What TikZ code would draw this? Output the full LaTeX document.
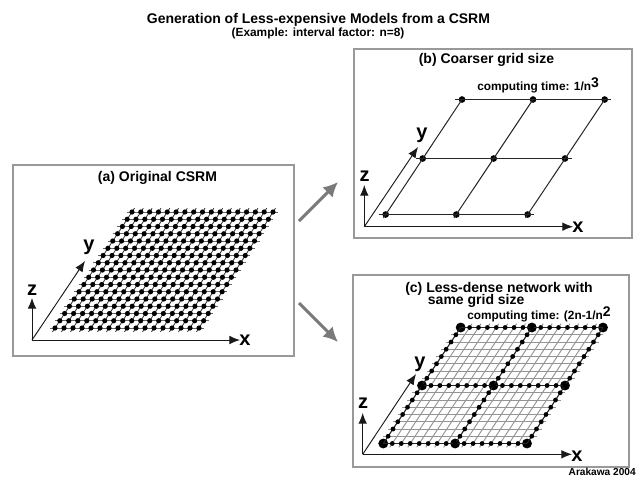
\documentclass[tikz,border=0pt]{standalone}
\usepackage{fontspec}
\setmainfont{Liberation Sans}
\usetikzlibrary{arrows.meta}
\tikzset{
 panel/.style={draw=black!40,line width=0.9pt,fill=white},
 axis/.style={black!90,line width=0.7pt,-{Latex[length=8pt,width=6.5pt]}},
 gridfine/.style={black!42,line width=0.7pt},
 gridh/.style={black!60,line width=0.75pt},
 gridv/.style={black!80,line width=0.6pt},
 coarse/.style={black!85,line width=0.75pt},
 flow/.style={black!52,line width=2.2pt,-{Latex[length=11pt,width=11pt]}},
 axlab/.style={font=\fontsize{15}{15}\selectfont\bfseries,inner sep=0pt},
 ttl/.style={font=\fontsize{10.5}{9}\selectfont\bfseries,inner sep=0pt},
 sub/.style={font=\fontsize{8.9}{9}\selectfont\bfseries,inner sep=0pt},
 dotS/.style={circle,fill=black,inner sep=0pt,minimum size=3.6pt},
 dotT/.style={circle,fill=black,inner sep=0pt,minimum size=3.9pt},
 dotM/.style={circle,fill=black,inner sep=0pt,minimum size=5pt},
 dotL/.style={circle,fill=black,inner sep=0pt,minimum size=7.4pt},
}
\begin{document}
\begin{tikzpicture}[x=0.75pt,y=-0.75pt]
\useasboundingbox (0,0) rectangle (640,480);
\fill[white] (0,0) rectangle (640,480);

\node[ttl] (title) at (318.5,19.5) {Generation of Less-expensive Models from a CSRM};
\node[sub] (subtitle) at (318,33) {(Example: interval factor: n=8)};

% panels
\draw[panel] (13,165) rectangle (294,356);
\draw[panel] (354,49) rectangle (632,238);
\draw[panel] (353,275) rectangle (629,467);

% flow arrows
\coordinate (fa1) at (299,221);
\coordinate (fb1) at (338,182);
\coordinate (fa2) at (299,303);
\coordinate (fb2) at (338,342);
\draw[flow] (fa1) -- (fb1);
\draw[flow] (fa2) -- (fb2);

% ---------- panel a grid
\foreach \v in {0,...,16}{
  \pgfmathsetmacro{\yy}{328-\v*116/16}
  \pgfmathsetmacro{\xl}{55+\v*77/16}
  \pgfmathsetmacro{\xr}{199+\v*74/16}
  \draw[gridh] (\xl-5,\yy) -- (\xr+5,\yy);
}
\foreach \u in {0,...,16}{
  \pgfmathsetmacro{\xb}{55+\u*144/16}
  \pgfmathsetmacro{\xt}{132+\u*141/16}
  \draw[gridv] (\xb-2.5,331.8) -- (\xt+2.5,208.2);
}
\foreach \v in {0,...,16}{\foreach \u in {0,...,16}{
  \pgfmathsetmacro{\yy}{328-\v*116/16}
  \pgfmathsetmacro{\xl}{55+\v*77/16}
  \pgfmathsetmacro{\xr}{199+\v*74/16}
  \pgfmathsetmacro{\xx}{\xl+\u*(\xr-\xl)/16}
  \node[dotT] (a\u-\v) at (\xx,\yy) {};
}}

% ---------- panel b grid
\foreach \n/\x/\y in {b00/385.7/214.5,b10/456.3/214.5,b20/527.7/214.5,
                      b01/422.7/158.5,b11/493.7/158.5,b21/565/158.5,
                      b02/462/99.5,b12/533/99.5,b22/604.7/99.5}{
  \node[dotM] (\n) at (\x,\y) {};
}
\draw[coarse,shorten <=-5pt,shorten >=-5pt] (b00.center) -- (b20.center);
\draw[coarse,shorten <=-5pt,shorten >=-5pt] (b01.center) -- (b21.center);
\draw[coarse,shorten <=-5pt,shorten >=-5pt] (b02.center) -- (b22.center);
\draw[coarse,shorten <=-3pt] (b00.center) -- (b02.center);
\draw[coarse,shorten <=-3pt] (b10.center) -- (b12.center);
\draw[coarse,shorten <=-3pt] (b20.center) -- (b22.center);

% ---------- panel c grid
\foreach \v in {0,...,16}{
  \pgfmathsetmacro{\yy}{443.5-\v*116/16}
  \pgfmathsetmacro{\xl}{383.3+\v*77.4/16}
  \pgfmathsetmacro{\xr}{527+\v*76/16}
  \draw[gridfine] (\xl-5,\yy) -- (\xr+5,\yy);
}
\foreach \u in {0,...,16}{
  \pgfmathsetmacro{\xb}{383.3+\u*143.7/16}
  \pgfmathsetmacro{\xt}{460.7+\u*142.3/16}
  \draw[gridfine] (\xb-2.5,447.3) -- (\xt+2.5,323.7);
}
\foreach \v in {0,8,16}{\foreach \u in {0,8,16}{
  \pgfmathsetmacro{\yy}{443.5-\v*116/16}
  \pgfmathsetmacro{\xl}{383.3+\v*77.4/16}
  \pgfmathsetmacro{\xr}{527+\v*76/16}
  \pgfmathsetmacro{\xx}{\xl+\u*(\xr-\xl)/16}
  \node[dotL] (c\u-\v) at (\xx,\yy) {};
}}
\foreach \v in {0,8,16}{
  \draw[coarse] (c0-\v.center) -- (c16-\v.center);
  \draw[coarse] (c\v-0.center) -- (c\v-16.center);
}
\foreach \v in {0,8,16}{\foreach \u in {1,...,15}{
  \pgfmathsetmacro{\yy}{443.5-\v*116/16}
  \pgfmathsetmacro{\xl}{383.3+\v*77.4/16}
  \pgfmathsetmacro{\xr}{527+\v*76/16}
  \pgfmathsetmacro{\xx}{\xl+\u*(\xr-\xl)/16}
  \node[dotS] (ch\u-\v) at (\xx,\yy) {};
}}
\foreach \u in {0,8,16}{\foreach \v in {1,...,15}{
  \pgfmathsetmacro{\yy}{443.5-\v*116/16}
  \pgfmathsetmacro{\xl}{383.3+\v*77.4/16}
  \pgfmathsetmacro{\xr}{527+\v*76/16}
  \pgfmathsetmacro{\xx}{\xl+\u*(\xr-\xl)/16}
  \node[dotS] (cv\u-\v) at (\xx,\yy) {};
}}

% ---------- axes
\foreach \p/\ox/\oy/\zy/\xx/\yx/\yy/\lxx/\lxy/\lyx/\lyy/\lzx/\lzy in {
  a/32/340/298/240/85/261/245/340/89/247/32/290,
  b/364.3/226.7/185/573/418/147/578/227/422/135/364.5/176,
  c/362.7/454.3/413/572/416/374/577/456/420/364/363/403}{
  \coordinate (o\p) at (\ox,\oy);
  \coordinate (z\p) at (\ox,\zy);
  \coordinate (x\p) at (\xx,\oy);
  \coordinate (y\p) at (\yx,\yy);
  \draw[axis] (o\p) -- (z\p);
  \draw[axis] (o\p) -- (x\p);
  \draw[axis] (o\p) -- (y\p);
  \node[axlab] (lx\p) at (\lxx,\lxy) {x};
  \node[axlab] (ly\p) at (\lyx,\lyy) {y};
  \node[axlab] (lz\p) at (\lzx,\lzy) {z};
}

% ---------- labels
\node[ttl] (ta) at (157.5,178) {(a) Original CSRM};
\node[ttl] (tb) at (486.5,60) {(b) Coarser grid size};
\node[sub,anchor=west] (cb) at (477,85) {computing time: 1/n\raisebox{0.5ex}{\fontsize{10.5}{10}\selectfont 3}};
\node[ttl,anchor=base west,align=left] (tc) at (405,304) {(c) Less-dense network with\\[-2.4pt]\hspace*{17pt}same grid size};
\node[sub,anchor=west] (cc) at (467,314) {computing time: (2n-1/n\raisebox{0.5ex}{\fontsize{10.5}{10}\selectfont 2}};
\node[font=\fontsize{7.6}{8}\selectfont\bfseries,inner sep=0pt,anchor=east] (cr) at (636,472) {Arakawa 2004};
\end{tikzpicture}
\end{document}
